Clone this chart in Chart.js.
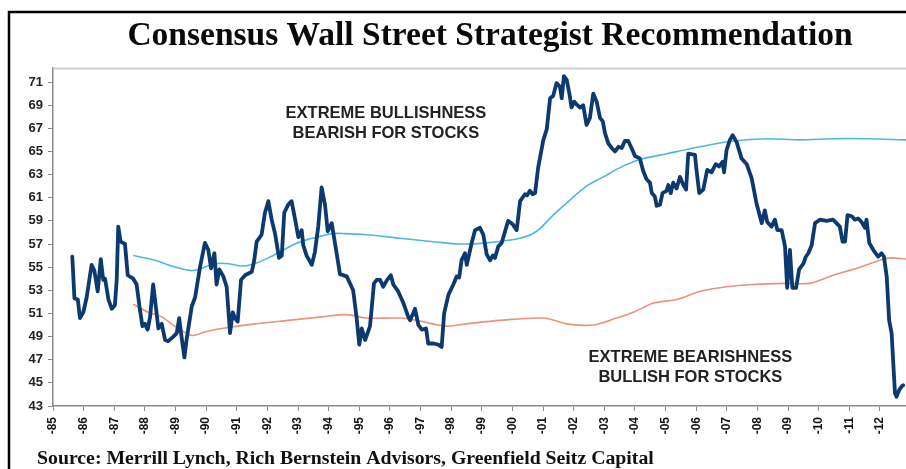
<!DOCTYPE html>
<html>
<head>
<meta charset="utf-8">
<script src="https://cdn.jsdelivr.net/npm/chart.js@4.4.1/dist/chart.umd.min.js"></script>
<style>
html,body{margin:0;padding:0;background:#fff;}
#wrap{width:906px;height:469px;position:relative;}
</style>
</head>
<body>
<div id="wrap"><canvas id="c" width="906" height="469"></canvas></div>
<script>
// ---------- data ----------
const titleText = 'Consensus Wall Street Strategist Recommendation';
const sourceText = 'Source: Merrill Lynch, Rich Bernstein Advisors, Greenfield Seitz Capital';
const bullNote = ['EXTREME BULLISHNESS', 'BEARISH FOR STOCKS'];
const bearNote = ['EXTREME BEARISHNESS', 'BULLISH FOR STOCKS'];
const yTickValues = [43,45,47,49,51,53,55,57,59,61,63,65,67,69,71];
const xTickYears = [1985,1986,1987,1988,1989,1990,1991,1992,1993,1994,1995,1996,1997,1998,1999,2000,2001,2002,2003,2004,2005,2006,2007,2008,2009,2010,2011,2012];
const xTickLabels = ['-85','-86','-87','-88','-89','-90','-91','-92','-93','-94','-95','-96','-97','-98','-99','-00','-01','-02','-03','-04','-05','-06','-07','-08','-09','-10','-11','-12'];

const consensusYears = [
1985.63,1985.70,1985.81,1985.88,1985.99,1986.10,1986.26,1986.35,1986.46,1986.56,1986.64,1986.70,1986.81,1986.92,
1987.02,1987.08,1987.13,1987.21,1987.35,1987.44,1987.62,1987.73,1987.84,1987.92,1988.00,1988.09,1988.17,1988.27,
1988.33,1988.44,1988.55,1988.66,1988.76,1988.93,1989.04,1989.12,1989.18,1989.29,1989.36,1989.53,1989.64,1989.80,
1989.96,1990.07,1990.16,1990.27,1990.34,1990.43,1990.56,1990.67,1990.78,1990.87,1990.94,1991.03,1991.14,1991.27,
1991.49,1991.57,1991.65,1991.81,1991.92,1992.03,1992.14,1992.25,1992.38,1992.47,1992.55,1992.68,1992.79,1992.90,
1993.01,1993.12,1993.17,1993.28,1993.45,1993.55,1993.66,1993.77,1993.88,1993.97,1994.10,1994.26,1994.37,1994.59,
1994.80,1994.91,1995.00,1995.08,1995.19,1995.35,1995.48,1995.57,1995.68,1995.78,1995.91,1996.03,1996.11,1996.27,
1996.44,1996.60,1996.66,1996.82,1996.93,1997.04,1997.18,1997.25,1997.42,1997.58,1997.69,1997.77,1997.91,1998.07,
1998.18,1998.26,1998.34,1998.45,1998.51,1998.67,1998.78,1998.94,1999.05,1999.16,1999.27,1999.36,1999.43,1999.54,
1999.65,1999.76,1999.86,2000.01,2000.14,2000.25,2000.41,2000.48,2000.57,2000.66,2000.74,2000.84,2001.01,2001.12,
2001.23,2001.33,2001.44,2001.55,2001.61,2001.68,2001.77,2001.86,2001.93,2002.02,2002.12,2002.21,2002.31,2002.42,
2002.53,2002.64,2002.75,2002.86,2002.95,2003.02,2003.13,2003.24,2003.35,2003.46,2003.57,2003.67,2003.78,2003.89,
2004.00,2004.16,2004.27,2004.38,2004.49,2004.55,2004.65,2004.71,2004.82,2004.90,2005.03,2005.09,2005.17,2005.25,
2005.36,2005.47,2005.58,2005.67,2005.74,2005.96,2006.01,2006.10,2006.23,2006.36,2006.50,2006.64,2006.75,2006.86,
2006.91,2006.99,2007.10,2007.19,2007.32,2007.48,2007.65,2007.81,2007.97,2008.14,2008.24,2008.32,2008.46,2008.57,
2008.65,2008.79,2008.90,2008.97,2009.06,2009.14,2009.26,2009.36,2009.50,2009.58,2009.66,2009.77,2009.88,2010.04,
2010.26,2010.47,2010.58,2010.69,2010.78,2010.86,2010.94,2011.08,2011.18,2011.29,2011.40,2011.51,2011.56,2011.65,
2011.78,2011.94,2012.05,2012.13,2012.22,2012.30,2012.38,2012.49,2012.54,2012.63,2012.71,2012.76
];
const consensusValues = [
55.9,52.3,52.2,50.6,51.1,52.4,55.2,54.7,52.9,55.7,53.9,54.0,52.2,51.4,
51.7,53.9,58.5,57.2,57.0,54.3,54.0,53.5,51.3,49.9,50.1,49.6,50.7,53.5,
52.2,49.7,50.1,48.7,48.6,49.0,49.3,50.6,49.3,47.2,48.7,51.6,52.4,55.0,
57.1,56.5,54.9,56.2,53.5,54.8,54.2,53.3,49.3,51.1,50.6,50.3,53.9,54.3,
54.6,55.6,57.2,57.8,59.7,60.7,59.1,57.9,55.8,56.0,59.7,60.4,60.7,59.2,
57.6,58.2,56.9,56.0,55.2,56.3,58.5,61.9,60.4,58.1,58.8,56.2,54.4,54.2,
53.0,50.7,48.3,49.7,48.7,49.9,53.6,53.9,53.9,53.3,53.9,54.3,53.5,52.9,
51.9,50.7,50.4,51.4,50.0,49.6,49.7,48.4,48.4,48.3,48.1,51.0,52.6,53.5,
54.2,54.1,55.6,56.2,55.2,57.1,58.2,58.4,57.8,56.1,55.6,56.0,55.8,56.8,
57.1,58.1,59.0,58.7,58.2,60.7,61.3,61.2,61.6,61.3,61.4,63.6,66.0,66.9,
69.6,69.8,70.9,70.6,69.6,71.5,71.2,70.0,68.8,69.3,69.0,68.8,69.0,67.3,
67.9,70.0,69.3,67.9,67.6,66.6,65.7,65.3,65.0,65.4,65.3,65.9,65.9,65.3,
64.6,64.4,63.3,62.6,62.3,61.4,61.1,60.3,60.4,61.4,61.6,62.1,61.4,62.3,
61.8,62.8,62.1,61.7,64.8,64.7,63.4,61.4,61.7,63.4,63.2,63.9,63.7,64.1,
63.2,65.1,66.0,66.4,65.8,64.4,63.9,62.7,60.5,58.8,59.9,58.9,58.5,59.1,
58.2,58.2,56.8,53.2,56.5,53.2,53.2,54.8,55.3,55.9,56.2,56.9,58.8,59.1,
59.0,59.1,58.8,58.5,57.2,57.2,59.5,59.4,59.1,59.2,58.9,58.4,59.1,57.1,
56.5,55.9,56.2,55.9,54.2,50.4,49.3,44.1,43.8,44.4,44.7,44.8
];

const sellSignalYears = [1987.62,1988.33,1988.88,1989.53,1989.85,1990.29,1990.72,1991.16,1991.59,1992.03,1992.47,1992.90,
1993.33,1993.77,1994.10,1994.50,1995.24,1996.33,1997.42,1998.29,1999.16,2000.25,2000.79,2001.33,2001.88,2002.42,
2002.97,2003.51,2004.16,2005.04,2006.12,2007.21,2008.30,2009.39,2010.47,2011.56,2012.85];
const sellSignalValues = [56.0,55.6,55.1,54.7,54.9,55.3,55.3,55.1,55.3,55.8,56.4,57.0,
57.4,57.7,57.9,57.9,57.8,57.5,57.2,57.0,57.1,57.5,58.1,59.5,60.8,62.0,
62.8,63.6,64.3,64.8,65.4,65.9,66.1,66.0,66.1,66.1,66.0];

const buySignalYears = [1987.62,1988.11,1988.55,1988.98,1989.53,1989.96,1990.51,1991.59,1992.68,1993.77,1994.59,1995.24,
1996.33,1996.87,1997.85,1998.51,1999.59,2001.01,2001.77,2002.64,2003.40,2003.95,2004.60,2005.36,2006.12,2006.99,
2007.86,2008.95,2009.71,2010.47,2011.24,2012.00,2012.33,2012.85];
const buySignalValues = [51.8,51.1,50.7,49.9,49.1,49.4,49.7,50.1,50.4,50.7,50.9,50.6,
50.6,50.4,49.9,50.1,50.4,50.6,50.1,50.0,50.6,51.1,51.9,52.2,52.9,53.3,
53.5,53.6,53.6,54.3,54.9,55.6,55.8,55.7];

// ---------- chart ----------
const toPoints = (xs, ys) => xs.map((x, i) => ({x: x, y: ys[i]}));
const sansBold = "'Liberation Sans', Arial, sans-serif";
const serif = "'Liberation Serif', 'Times New Roman', serif";

const decor = {
  id: 'decor',
  afterLayout(chart) {
    if (chart.titleBlock) { chart.titleBlock.left = 74; }
    chart.boxes.forEach(b => {
      if (b.options && b.options.text === sourceText) { b.left = 37; }
    });
  },
  beforeDatasetsDraw(chart) {
    const ctx = chart.ctx, a = chart.chartArea;
    ctx.save();
    ctx.strokeStyle = '#000';
    ctx.lineWidth = 2.5;
    ctx.beginPath();
    ctx.moveTo(9, chart.height + 2);
    ctx.lineTo(9, 12);
    ctx.lineTo(chart.width + 2, 12);
    ctx.stroke();
    ctx.strokeStyle = '#cfcfcf';
    ctx.lineWidth = 2;
    ctx.beginPath();
    ctx.moveTo(a.left, a.top + 0.5);
    ctx.lineTo(a.right, a.top + 0.5);
    ctx.stroke();
    ctx.restore();
  },
  afterDatasetsDraw(chart, args, opts) {
    const ctx = chart.ctx, a = chart.chartArea;
    const xs = chart.scales.x, ys = chart.scales.y;
    ctx.save();
    ctx.fillStyle = '#222';
    ctx.font = "bold 16.5px " + sansBold;
    ctx.textAlign = 'center';
    ctx.textBaseline = 'middle';
    opts.notes.forEach(n => {
      const px = xs.getPixelForValue(n.x);
      const py = ys.getPixelForValue(n.y);
      n.lines.forEach((t, i) => ctx.fillText(t, px, py + i * 20));
    });
    ctx.restore();
    // rotated year labels under the x axis
    ctx.save();
    ctx.fillStyle = '#111';
    ctx.font = "bold 12px " + sansBold;
    ctx.textAlign = 'right';
    ctx.textBaseline = 'middle';
    xTickYears.forEach((v, i) => {
      const px = xs.getPixelForValue(v);
      ctx.save();
      ctx.translate(px, a.bottom + 11);
      ctx.rotate(-Math.PI / 2);
      ctx.fillText(xTickLabels[i], 0, 0);
      ctx.restore();
    });
    ctx.restore();
  }
};

new Chart(document.getElementById('c'), {
  type: 'line',
  data: {
    datasets: [
      {label: 'Consensus', data: toPoints(consensusYears, consensusValues), borderColor: '#0c3a70', borderWidth: 3.8,
       pointRadius: 0, tension: 0, order: 0, borderJoinStyle: 'round', borderCapStyle: 'round'},
      {label: 'Sell signal', data: toPoints(sellSignalYears, sellSignalValues), borderColor: '#4fb7df', borderWidth: 1.6,
       pointRadius: 0, tension: 0.3, order: 1},
      {label: 'Buy signal', data: toPoints(buySignalYears, buySignalValues), borderColor: '#e9937c', borderWidth: 1.6,
       pointRadius: 0, tension: 0.3, order: 2}
    ]
  },
  options: {
    responsive: false,
    animation: false,
    devicePixelRatio: 1,
    layout: {padding: {left: 0, right: 0, top: 0, bottom: 0}},
    scales: {
      x: {
        type: 'linear', min: 1985, max: 2012.85,
        afterBuildTicks: (axis) => { axis.ticks = xTickYears.map(v => ({value: v})); },
        afterFit: (s) => { s.height = 25; },
        grid: {display: true, drawOnChartArea: false, drawTicks: true, tickLength: 5, color: '#8a8a8a'},
        border: {display: true, color: '#8a8a8a', width: 1.5},
        ticks: {display: false, autoSkip: false}
      },
      y: {
        type: 'linear', min: 43, max: 72.21,
        afterBuildTicks: (axis) => { axis.ticks = yTickValues.map(v => ({value: v})); },
        afterFit: (s) => { s.width = 53; },
        grid: {display: true, drawOnChartArea: false, drawTicks: true, tickLength: 5, color: '#8a8a8a'},
        border: {display: true, color: '#8a8a8a', width: 1.5},
        ticks: {padding: 5, color: '#222', font: {family: sansBold, weight: 'bold', size: 13}}
      }
    },
    plugins: {
      legend: {display: false},
      tooltip: {enabled: false},
      title: {display: true, text: titleText, color: '#0a0a0a',
              font: {family: serif, weight: 'bold', size: 33.5, lineHeight: 1.2},
              padding: {top: 16, bottom: 11.8}},
      subtitle: {display: true, text: sourceText, position: 'bottom', align: 'start', color: '#111',
                 font: {family: serif, weight: 'bold', size: 19.8, lineHeight: 1},
                 padding: {top: 18.2, bottom: 0}},
      decor: {notes: [
        {x: 1995.87, y: 68.32, lines: bullNote},
        {x: 2005.81, y: 47.19, lines: bearNote}
      ]}
    }
  },
  plugins: [decor]
});
</script>
</body>
</html>
